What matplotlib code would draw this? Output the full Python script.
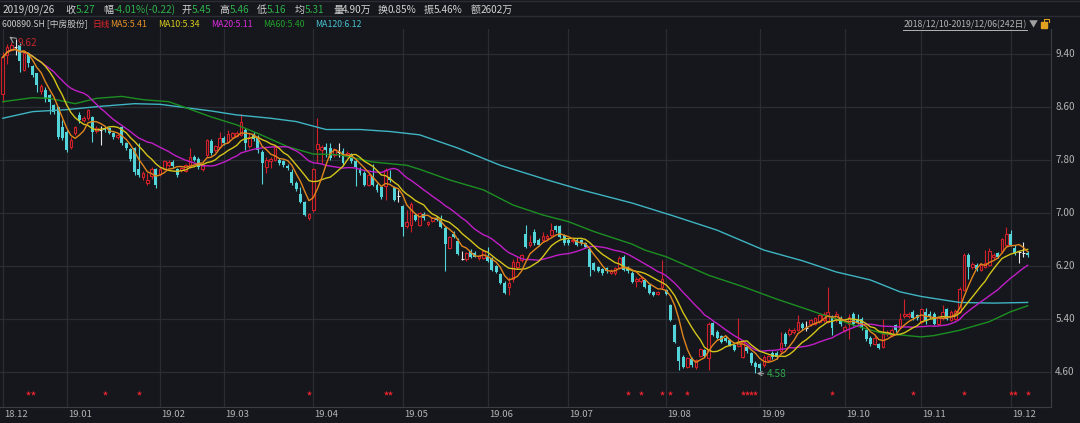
import numpy as np
import pandas as pd
import matplotlib.pyplot as plt

plt.rcParams['font.family'] = ['Noto Sans CJK SC', 'DejaVu Sans']

# daily candles 2018/12/10 - 2019/12/06
opens = [8.80, 9.38, 9.48, 9.50, 9.54, 9.16, 9.41, 9.22, 9.11, 8.84,
         8.86, 8.78, 8.63, 8.60, 8.30, 8.23, 8.00, 8.20, 8.48, 8.40,
         8.43, 8.45, 8.24, 8.26, 8.29, 8.28, 8.21, 8.14, 8.30, 8.05,
         7.96, 7.98, 7.66, 7.55, 7.46, 7.56, 7.67, 7.59, 7.67, 7.73,
         7.77, 7.66, 7.65, 7.64, 7.70, 7.84, 7.82, 7.66, 7.88, 8.08,
         7.95, 8.00, 8.13, 8.07, 8.15, 8.16, 8.18, 8.26, 8.01, 8.18,
         8.15, 7.92, 7.70, 7.78, 7.80, 7.80, 7.78, 7.71, 7.62, 7.46,
         7.29, 7.16, 6.93, 7.05, 7.96, 7.95, 8.00, 7.98, 7.87, 7.92,
         7.93, 7.88, 7.89, 7.79, 7.67, 7.61, 7.42, 7.56, 7.42, 7.39,
         7.40, 7.55, 7.39, 7.25, 7.10, 6.80, 6.82, 6.97, 6.82, 6.99,
         6.84, 6.88, 6.93, 6.90, 6.77, 6.47, 6.68, 6.58, 6.31, 6.30,
         6.43, 6.40, 6.32, 6.32, 6.34, 6.32, 6.20, 6.08, 5.95, 5.89,
         6.01, 6.19, 6.29, 6.69, 6.52, 6.72, 6.60, 6.59, 6.62, 6.67,
         6.80, 6.80, 6.67, 6.60, 6.57, 6.60, 6.59, 6.54, 6.45, 6.24,
         6.18, 6.15, 6.17, 6.10, 6.09, 6.17, 6.34, 6.18, 6.10, 5.97,
         5.98, 5.99, 5.91, 5.81, 5.78, 5.88, 5.84, 5.61, 5.31, 4.98,
         4.83, 4.68, 4.80, 4.68, 4.84, 4.93, 4.81, 5.34, 5.21, 5.14,
         5.12, 5.08, 5.01, 5.00, 4.83, 4.98, 4.88, 4.74, 4.72, 4.70,
         4.78, 4.89, 4.89, 4.91, 5.18, 5.18, 5.20, 5.24, 5.33, 5.26,
         5.32, 5.33, 5.36, 5.38, 5.36, 5.45, 5.38, 5.41, 5.23, 5.32,
         5.47, 5.40, 5.40, 5.23, 5.12, 5.03, 5.02, 4.98, 5.17, 5.16,
         5.31, 5.28, 5.44, 5.44, 5.50, 5.46, 5.35, 5.51, 5.48, 5.47,
         5.33, 5.41, 5.55, 5.39, 5.40, 5.51, 5.84, 6.37, 6.18, 6.21,
         6.14, 6.19, 6.22, 6.33, 6.39, 6.42, 6.52, 6.69, 6.47, 6.41,
         6.39, 6.40]
highs = [9.43, 9.55, 9.58, 9.62, 9.56, 9.43, 9.43, 9.24, 9.12, 8.95,
         8.90, 8.80, 8.65, 8.61, 8.40, 8.25, 8.14, 8.32, 8.52, 8.47,
         8.57, 8.47, 8.31, 8.31, 8.31, 8.30, 8.23, 8.19, 8.31, 8.07,
         7.98, 8.00, 8.05, 7.63, 7.60, 7.70, 7.68, 7.70, 7.80, 7.80,
         7.80, 7.68, 7.70, 7.74, 7.98, 7.88, 7.84, 7.75, 8.12, 8.12,
         8.03, 8.23, 8.16, 8.25, 8.22, 8.24, 8.49, 8.28, 8.20, 8.22,
         8.18, 7.95, 7.85, 7.84, 8.01, 7.83, 7.80, 7.74, 7.66, 7.48,
         7.39, 7.18, 7.00, 7.68, 8.43, 8.03, 8.05, 8.05, 7.98, 8.05,
         7.98, 7.93, 7.90, 7.82, 7.70, 7.63, 7.60, 7.74, 7.45, 7.41,
         7.68, 7.65, 7.41, 7.35, 7.12, 7.05, 7.16, 7.00, 7.02, 7.01,
         6.88, 6.94, 6.95, 6.97, 6.80, 6.66, 6.73, 6.62, 6.42, 6.41,
         6.45, 6.42, 6.37, 6.44, 6.48, 6.34, 6.22, 6.10, 5.97, 6.04,
         6.31, 6.34, 6.38, 6.82, 6.67, 6.76, 6.62, 6.72, 6.68, 6.85,
         6.82, 6.82, 6.69, 6.62, 6.62, 6.62, 6.61, 6.56, 6.47, 6.26,
         6.20, 6.17, 6.19, 6.15, 6.18, 6.35, 6.36, 6.20, 6.12, 6.03,
         6.05, 6.01, 5.93, 5.83, 5.83, 6.29, 5.86, 5.63, 5.33, 5.00,
         4.85, 4.83, 4.82, 4.80, 4.96, 4.95, 5.35, 5.36, 5.23, 5.16,
         5.14, 5.10, 5.03, 5.41, 5.08, 5.00, 4.90, 4.76, 4.74, 4.85,
         4.86, 4.91, 4.91, 5.21, 5.20, 5.27, 5.26, 5.46, 5.35, 5.37,
         5.40, 5.43, 5.48, 5.50, 5.89, 5.46, 5.52, 5.45, 5.31, 5.47,
         5.50, 5.47, 5.43, 5.25, 5.14, 5.18, 5.04, 5.40, 5.23, 5.26,
         5.33, 5.49, 5.70, 5.50, 5.54, 5.48, 5.57, 5.57, 5.52, 5.50,
         5.43, 5.61, 5.57, 5.53, 5.55, 5.88, 6.39, 6.40, 6.26, 6.24,
         6.24, 6.44, 6.47, 6.40, 6.41, 6.63, 6.79, 6.74, 6.52, 6.43,
         6.56, 6.42]
lows = [8.68, 9.25, 9.45, 9.38, 9.13, 9.14, 9.20, 9.05, 8.82, 8.80,
        8.68, 8.50, 8.50, 8.12, 8.10, 7.92, 7.96, 8.18, 8.36, 8.38,
        8.40, 8.07, 8.20, 8.03, 8.22, 8.19, 8.11, 8.12, 8.03, 7.95,
        7.79, 7.58, 7.55, 7.50, 7.42, 7.52, 7.37, 7.56, 7.65, 7.70,
        7.68, 7.55, 7.62, 7.62, 7.68, 7.78, 7.66, 7.64, 7.85, 7.87,
        7.92, 7.98, 8.03, 8.05, 8.13, 8.14, 8.16, 7.95, 7.98, 8.08,
        7.90, 7.44, 7.60, 7.68, 7.78, 7.72, 7.70, 7.65, 7.43, 7.33,
        7.15, 6.95, 6.89, 7.02, 7.75, 7.75, 7.85, 7.80, 7.85, 7.85,
        7.73, 7.85, 7.76, 7.40, 7.58, 7.40, 7.40, 7.40, 7.32, 7.21,
        7.20, 7.47, 7.18, 7.17, 6.65, 6.78, 6.72, 6.88, 6.80, 6.90,
        6.80, 6.86, 6.88, 6.77, 6.13, 6.45, 6.62, 6.36, 6.29, 6.28,
        6.32, 6.33, 6.29, 6.30, 6.26, 6.12, 6.09, 5.93, 5.77, 5.76,
        5.96, 6.15, 6.26, 6.47, 6.49, 6.52, 6.50, 6.56, 6.58, 6.64,
        6.72, 6.62, 6.52, 6.52, 6.55, 6.50, 6.52, 6.47, 6.05, 6.12,
        6.11, 6.07, 6.10, 6.08, 6.07, 6.15, 6.12, 6.10, 5.94, 5.88,
        5.95, 5.87, 5.78, 5.74, 5.76, 5.86, 5.76, 5.37, 5.04, 4.63,
        4.66, 4.66, 4.68, 4.65, 4.82, 4.82, 4.63, 5.14, 5.10, 5.04,
        5.05, 4.99, 4.91, 4.98, 4.81, 4.89, 4.71, 4.58, 4.62, 4.68,
        4.75, 4.80, 4.80, 4.89, 5.00, 5.15, 5.18, 5.22, 5.24, 5.22,
        5.30, 5.31, 5.34, 5.36, 5.34, 5.16, 5.35, 5.30, 5.20, 5.10,
        5.30, 5.32, 5.24, 5.07, 5.00, 5.01, 4.94, 4.96, 5.14, 5.13,
        5.20, 5.26, 5.42, 5.41, 5.39, 5.39, 5.33, 5.33, 5.42, 5.31,
        5.31, 5.39, 5.38, 5.37, 5.38, 5.49, 5.82, 6.01, 6.15, 6.13,
        6.12, 6.17, 6.20, 6.30, 6.32, 6.40, 6.50, 6.50, 6.37, 6.24,
        6.33, 6.33]
closes = [9.35, 9.50, 9.53, 9.50, 9.30, 9.41, 9.26, 9.08, 8.93, 8.92,
          8.72, 8.67, 8.53, 8.15, 8.13, 7.95, 8.10, 8.30, 8.40, 8.44,
          8.55, 8.22, 8.28, 8.26, 8.25, 8.21, 8.14, 8.18, 8.05, 7.98,
          7.81, 7.62, 7.58, 7.60, 7.50, 7.67, 7.43, 7.67, 7.78, 7.77,
          7.71, 7.57, 7.68, 7.72, 7.85, 7.80, 7.69, 7.72, 8.10, 7.90,
          8.01, 8.13, 8.05, 8.19, 8.20, 8.21, 8.38, 8.05, 8.15, 8.12,
          7.95, 7.76, 7.80, 7.81, 7.99, 7.75, 7.72, 7.68, 7.45, 7.36,
          7.17, 6.97, 6.98, 7.67, 8.04, 7.99, 7.95, 7.83, 7.96, 7.92,
          7.75, 7.91, 7.78, 7.70, 7.60, 7.42, 7.57, 7.42, 7.35, 7.24,
          7.65, 7.50, 7.20, 7.25, 6.79, 6.87, 7.14, 6.90, 7.00, 6.92,
          6.86, 6.92, 6.90, 6.79, 6.53, 6.64, 6.64, 6.38, 6.31, 6.39,
          6.34, 6.34, 6.35, 6.42, 6.28, 6.14, 6.11, 5.95, 5.80, 5.94,
          6.26, 6.26, 6.36, 6.49, 6.56, 6.54, 6.52, 6.66, 6.65, 6.75,
          6.74, 6.64, 6.54, 6.55, 6.59, 6.52, 6.54, 6.49, 6.18, 6.14,
          6.13, 6.09, 6.12, 6.13, 6.17, 6.32, 6.14, 6.12, 5.96, 6.01,
          6.02, 5.89, 5.80, 5.76, 5.81, 6.00, 5.78, 5.39, 5.06, 4.76,
          4.68, 4.81, 4.70, 4.78, 4.94, 4.84, 5.33, 5.16, 5.12, 5.06,
          5.07, 5.01, 4.93, 5.05, 5.06, 4.91, 4.73, 4.67, 4.66, 4.83,
          4.84, 4.82, 4.82, 5.04, 5.03, 5.23, 5.24, 5.36, 5.26, 5.26,
          5.38, 5.41, 5.46, 5.48, 5.51, 5.27, 5.48, 5.32, 5.28, 5.43,
          5.33, 5.34, 5.26, 5.10, 5.02, 5.11, 4.96, 5.18, 5.21, 5.23,
          5.23, 5.40, 5.47, 5.47, 5.41, 5.41, 5.55, 5.37, 5.44, 5.33,
          5.41, 5.51, 5.40, 5.51, 5.52, 5.85, 6.37, 6.19, 6.23, 6.15,
          6.22, 6.25, 6.42, 6.37, 6.34, 6.61, 6.69, 6.52, 6.39, 6.41,
          6.39, 6.37]

ma60_days = [0, 7, 11, 17, 22, 28, 33, 39, 43, 49, 55, 60, 67, 73, 79, 87,
             95, 98, 105, 113, 120, 127, 133, 139, 148, 151, 156, 166, 174,
             182, 189, 193, 196, 200, 207, 211, 216, 219, 225, 232, 237, 241]
ma60_vals = [8.68, 8.74, 8.73, 8.65, 8.73, 8.76, 8.71, 8.68, 8.59, 8.45,
             8.33, 8.20, 8.00, 7.89, 7.88, 7.77, 7.72, 7.66, 7.50, 7.35,
             7.12, 6.97, 6.87, 6.72, 6.53, 6.44, 6.34, 6.06, 5.89, 5.70,
             5.55, 5.46, 5.40, 5.31, 5.18, 5.16, 5.13, 5.15, 5.23, 5.36,
             5.51, 5.60]
ma120_days = [0, 7, 15, 23, 31, 37, 43, 49, 55, 63, 69, 76, 84, 91, 98, 107,
              117, 128, 136, 148, 158, 168, 179, 188, 196, 204, 211, 216,
              225, 233, 241]
ma120_vals = [8.43, 8.53, 8.56, 8.61, 8.65, 8.64, 8.59, 8.54, 8.48, 8.43,
              8.38, 8.26, 8.26, 8.23, 8.18, 7.98, 7.72, 7.50, 7.35, 7.15,
              6.95, 6.74, 6.44, 6.28, 6.11, 5.99, 5.81, 5.74, 5.65, 5.64,
              5.65]

month_start = [0, 15, 37, 52, 73, 94, 114, 133, 156, 178, 198, 216, 237]
month_labels = ['18.12', '19.01', '19.02', '19.03', '19.04', '19.05', '19.06',
                '19.07', '19.08', '19.09', '19.10', '19.11', '19.12']
signal_days = [6, 7, 24, 32, 72, 90, 91, 147, 150, 155, 157, 161, 174, 175,
               176, 177, 195, 214, 226, 237, 238, 241]
price_ticks = [4.60, 5.40, 6.20, 7.00, 7.80, 8.60, 9.40]

header = [('2019/09/26', '#d2d2d2'), ('收', '#d2d2d2'), ('5.27', '#2fb24c'),
          ('幅', '#d2d2d2'), ('-4.01%(-0.22)', '#2fb24c'), ('开', '#d2d2d2'),
          ('5.45', '#2fb24c'), ('高', '#d2d2d2'), ('5.46', '#2fb24c'),
          ('低', '#d2d2d2'), ('5.16', '#2fb24c'), ('均', '#d2d2d2'),
          ('5.31', '#2fb24c'), ('量', '#d2d2d2'), ('4.90万', '#d2d2d2'),
          ('换', '#d2d2d2'), ('0.85%', '#d2d2d2'), ('振', '#d2d2d2'),
          ('5.46%', '#d2d2d2'), ('额', '#d2d2d2'), ('2602万', '#d2d2d2')]
header_x = [3, 65, 76, 103, 114, 181, 192, 219, 230, 257, 267, 295, 305,
            333, 342, 378, 388, 424, 434, 471, 481]
legend = [('600890.SH [中房股份]', '#c8c8c8'), ('日线', '#e0262c'),
          ('MA5:5.41', '#e8922a'), ('MA10:5.34', '#dccd1e'),
          ('MA20:5.11', '#dc2ce0'), ('MA60:5.40', '#22a02a'),
          ('MA120:6.12', '#48c3d2')]
legend_x = [2, 92, 110, 158, 211, 263, 315]

df = pd.DataFrame({'open': opens, 'high': highs, 'low': lows, 'close': closes})
df['ma5'] = df['close'].rolling(5, min_periods=1).mean()
df['ma10'] = df['close'].rolling(10, min_periods=1).mean()
df['ma20'] = df['close'].rolling(20, min_periods=1).mean()
x = np.arange(len(df))

BG = '#15171c'
GRID = '#2a2d34'
UP = '#d0202a'
DOWN = '#52d4d8'
W, H = 1080, 423

fig = plt.figure(figsize=(W / 100, H / 100), dpi=100, facecolor=BG)
ax = fig.add_axes([0, 16 / H, 1051 / W, 378 / H], facecolor=BG)
ax.set_xlim(-0.66, 246.5)
ax.set_ylim(4.072, 9.777)

for p in price_ticks:
    ax.axhline(p, color=GRID, lw=0.9, zorder=0)
for m in month_start:
    ax.axvline(m, color=GRID, lw=0.9, zorder=0)

up = df['close'] > df['open']
down = df['close'] < df['open']
flat = df['close'] == df['open']
colors = np.where(up, UP, np.where(down, DOWN, '#e8e8e8'))
ax.vlines(x, df['low'], df['high'], colors=colors, lw=0.8, zorder=2)
body_lo = np.minimum(df['open'], df['close'])
body_h = (df['close'] - df['open']).abs()
ax.bar(x[up], body_h[up], bottom=body_lo[up], width=0.62, color=BG,
       edgecolor=UP, linewidth=0.8, zorder=3)
ax.bar(x[down], body_h[down], bottom=body_lo[down], width=0.7, color=DOWN,
       linewidth=0, zorder=3)
ax.hlines(df['close'][flat], x[flat] - 0.35, x[flat] + 0.35, colors='#e8e8e8',
          lw=0.8, zorder=3)

ax.plot(ma120_days, ma120_vals, color='#3fb4c2', lw=1.0, zorder=4)
ax.plot(ma60_days, ma60_vals, color='#1c8f22', lw=1.0, zorder=4)
ax.plot(x, df['ma20'], color='#c21ec8', lw=1.0, zorder=4)
ax.plot(x, df['ma10'], color='#d4c41a', lw=1.0, zorder=4)
ax.plot(x, df['ma5'], color='#e0861c', lw=1.0, zorder=4)

ax.scatter(signal_days, [0.037] * len(signal_days), marker='*', s=16,
           color='#e4232b', linewidths=0, transform=ax.get_xaxis_transform(),
           zorder=5)

# highest / lowest markers
ax.annotate('', xy=(7, H - 35), xytext=(14, H - 40), xycoords='figure pixels',
            arrowprops=dict(arrowstyle='->', color='#a0a0a0', lw=0.8))
fig.text(17 / W, 1 - 42.5 / H, '9.62', color='#c0262c', fontsize=7.2,
         va='center', ha='left')
ax.annotate('4.58', xy=(177, 4.58), xytext=(11, -1), textcoords='offset pixels',
            color='#2fa84c', fontsize=7.2, va='center', ha='left',
            arrowprops=dict(arrowstyle='->', color='#a0a0a0', lw=0.8,
                            shrinkA=0, shrinkB=1))

for s in ['top', 'left']:
    ax.spines[s].set_visible(False)
ax.spines['right'].set_color('#3a3d44')
ax.spines['bottom'].set_color('#3a3d44')
ax.set_xticks([])
ax.set_yticks([])

for p in price_ticks:
    ax.text(1.004, p, '%.2f' % p, transform=ax.get_yaxis_transform(),
            color='#b4b4b4', fontsize=7.2, va='center', ha='left', clip_on=False)
for m, lab in zip(month_start, month_labels):
    ax.text(m + 0.3, -0.019, lab, transform=ax.get_xaxis_transform(),
            color='#b4b4b4', fontsize=6.8, va='center', ha='left', clip_on=False)

for (t, c), px in zip(header, header_x):
    fig.text(px / W, 1 - 10 / H, t, color=c, fontsize=7.2, va='center', ha='left')
for (t, c), px in zip(legend, legend_x):
    fig.text(px / W, 1 - 24.5 / H, t, color=c, fontsize=6.3, va='center', ha='left')

fig.add_artist(plt.Line2D([0, 1], [1 - 16.5 / H] * 2, color=GRID, lw=1.0))
fig.add_artist(plt.Line2D([0, 1], [1 - 0.8 / H] * 2, color=GRID, lw=1.0))
fig.text(1027 / W, 1 - 24.5 / H, '2018/12/10-2019/12/06(242日)', color='#b4b4b4',
         fontsize=6.3, va='center', ha='right')
fig.add_artist(plt.Line2D([903 / W, 1027 / W], [1 - 30 / H] * 2,
                          color='#b4b4b4', lw=0.7))
fig.text(1033 / W, 1 - 24.5 / H, '▼', color='#a0a0a0', fontsize=6.5,
         va='center', ha='center')
fig.add_artist(plt.Rectangle((1041 / W, 1 - 28.5 / H), 6 / W, 6 / H,
                             color='#e0a020'))
fig.add_artist(plt.Line2D([1044 / W, 1044 / W, 1049 / W, 1049 / W],
                          [1 - 23 / H, 1 - 19.5 / H, 1 - 19.5 / H, 1 - 22 / H],
                          color='#e0a020', lw=0.8))

fig.savefig('out.png', dpi=100, facecolor=BG)
